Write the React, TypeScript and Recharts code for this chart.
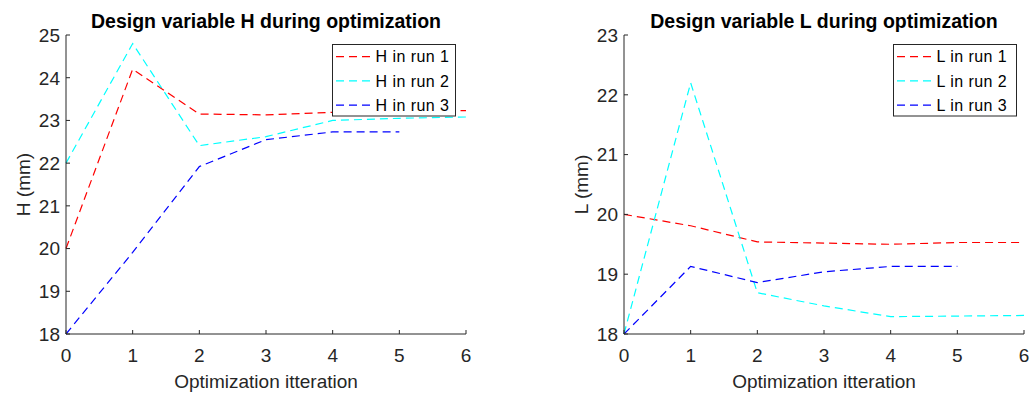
import React from 'react';
import { LineChart, Line, XAxis, YAxis, Legend } from 'recharts';

const iterations = [0, 1, 2, 3, 4, 5, 6];

const hRun1 = [20, 24.2, 23.15, 23.13, 23.19, 23.22, 23.23];
const hRun2 = [22, 24.8, 22.41, 22.62, 23.0, 23.05, 23.08];
const hRun3 = [18, 19.91, 21.92, 22.55, 22.73, 22.73];

const lRun1 = [20, 19.81, 19.54, 19.52, 19.5, 19.53, 19.53];
const lRun2 = [18, 22.2, 18.69, 18.47, 18.29, 18.3, 18.31];
const lRun3 = [18, 19.13, 18.86, 19.04, 19.13, 19.13];

const hTicks = [18, 19, 20, 21, 22, 23, 24, 25];
const lTicks = [18, 19, 20, 21, 22, 23];

const hNames = ['H in run 1', 'H in run 2', 'H in run 3'];
const lNames = ['L in run 1', 'L in run 2', 'L in run 3'];

const colors = ['#ff0000', '#00ffff', '#0000ff'];

const FONT = '"Liberation Sans", Arial, Helvetica, sans-serif';
const AXIS = '#262626';

function buildRows(a: number[], b: number[], c: number[]) {
  return iterations.map((x, i) => ({
    x,
    r1: a[i] === undefined ? null : a[i],
    r2: b[i] === undefined ? null : b[i],
    r3: c[i] === undefined ? null : c[i],
  }));
}

const YTick = (props: any) => {
  const { x, y, payload } = props;
  return (
    <g>
      <line x1={x} x2={x + 4} y1={y} y2={y} stroke={AXIS} strokeWidth={1} />
      <text x={x - 6} y={y} dy="0.36em" textAnchor="end" fill={AXIS} fontSize={19} fontFamily={FONT}>
        {payload.value}
      </text>
    </g>
  );
};

const XTick = (props: any) => {
  const { x, y, payload } = props;
  return (
    <g>
      <line x1={x} x2={x} y1={y} y2={y - 4} stroke={AXIS} strokeWidth={1} />
      <text x={x} y={y + 14} dy="0.72em" textAnchor="middle" fill={AXIS} fontSize={19} fontFamily={FONT}>
        {payload.value}
      </text>
    </g>
  );
};

function makeLegend(names: string[]) {
  return () => (
    <svg width={124} height={73} style={{ display: 'block' }}>
      <rect x={0.5} y={0.5} width={123} height={71.5} fill="#fff" stroke={AXIS} strokeWidth={1} />
      {names.map((n, i) => {
        const cy = 12.7 + i * 24.2;
        return (
          <g key={n}>
            <line x1={4} x2={41} y1={cy} y2={cy} stroke={colors[i]} strokeWidth={1.2} strokeDasharray="8 5" />
            <text
              x={43.5}
              y={cy}
              dy="0.36em"
              fontSize={16}
              letterSpacing={0.45}
              fontFamily={FONT}
              fill="#000"
            >
              {n}
            </text>
          </g>
        );
      })}
    </svg>
  );
}

type PanelProps = {
  left: number;
  width: number;
  yWidth: number;
  marginRight: number;
  title: string;
  ylabel: string;
  domain: [number, number];
  ticks: number[];
  rows: any[];
  names: string[];
  legendLeft: number;
};

function Panel(p: PanelProps) {
  const plotLeft = p.yWidth;
  const plotWidth = p.width - p.yWidth - p.marginRight;
  return (
    <div style={{ position: 'absolute', left: p.left, top: 0, width: p.width, height: 394 }}>
      <div
        style={{
          position: 'absolute',
          left: plotLeft - 100,
          width: plotWidth + 200,
          top: 9,
          textAlign: 'center',
          fontFamily: FONT,
          fontWeight: 'bold',
          fontSize: 19.5,
          lineHeight: '24px',
          color: '#000',
          whiteSpace: 'nowrap',
        }}
      >
        {p.title}
      </div>
      <LineChart
        width={p.width}
        height={394}
        data={p.rows}
        margin={{ top: 35, right: p.marginRight, left: 0, bottom: 0 }}
      >
        <XAxis
          dataKey="x"
          type="number"
          domain={[0, 6]}
          ticks={iterations}
          height={60}
          axisLine={{ stroke: AXIS, strokeWidth: 1 }}
          tickLine={false}
          tickSize={0}
          tickMargin={0}
          tick={<XTick />}
          interval={0}
          label={{
            value: 'Optimization itteration',
            position: 'center',
            dy: 17,
            fill: AXIS,
            fontSize: 19,
            fontFamily: FONT,
          }}
        />
        <YAxis
          type="number"
          domain={p.domain}
          ticks={p.ticks}
          width={p.yWidth}
          axisLine={{ stroke: AXIS, strokeWidth: 1 }}
          tickLine={false}
          tickSize={0}
          tickMargin={0}
          tick={<YTick />}
          interval={0}
          label={{
            value: p.ylabel,
            angle: -90,
            position: 'center',
            dx: p.yWidth / 2 - 43,
            fill: AXIS,
            fontSize: 19,
            fontFamily: FONT,
          }}
        />
        <Legend
          layout="vertical"
          align="center"
          verticalAlign="middle"
          content={makeLegend(p.names)}
          wrapperStyle={{ left: p.legendLeft, top: 44, width: 124, height: 73 }}
        />
        {['r1', 'r2', 'r3'].map((k, i) => (
          <Line
            key={k}
            dataKey={k}
            name={p.names[i]}
            stroke={colors[i]}
            strokeWidth={1.2}
            strokeDasharray="8 5"
            dot={false}
            activeDot={false}
            type="linear"
            isAnimationActive={false}
          />
        ))}
      </LineChart>
    </div>
  );
}

export default function App() {
  const hRows = buildRows(hRun1, hRun2, hRun3);
  const lRows = buildRows(lRun1, lRun2, lRun3);
  return (
    <div style={{ position: 'absolute', left: 0, top: 0, width: 1035, height: 394, background: '#fff', overflow: 'hidden' }}>
      <Panel
        left={0}
        width={517}
        yWidth={66}
        marginRight={51}
        title="Design variable H during optimization"
        ylabel="H (mm)"
        domain={[18, 25]}
        ticks={hTicks}
        rows={hRows}
        names={hNames}
        legendLeft={332}
      />
      <Panel
        left={517}
        width={518}
        yWidth={107}
        marginRight={11}
        title="Design variable L during optimization"
        ylabel="L (mm)"
        domain={[18, 23]}
        ticks={lTicks}
        rows={lRows}
        names={lNames}
        legendLeft={376}
      />
    </div>
  );
}
